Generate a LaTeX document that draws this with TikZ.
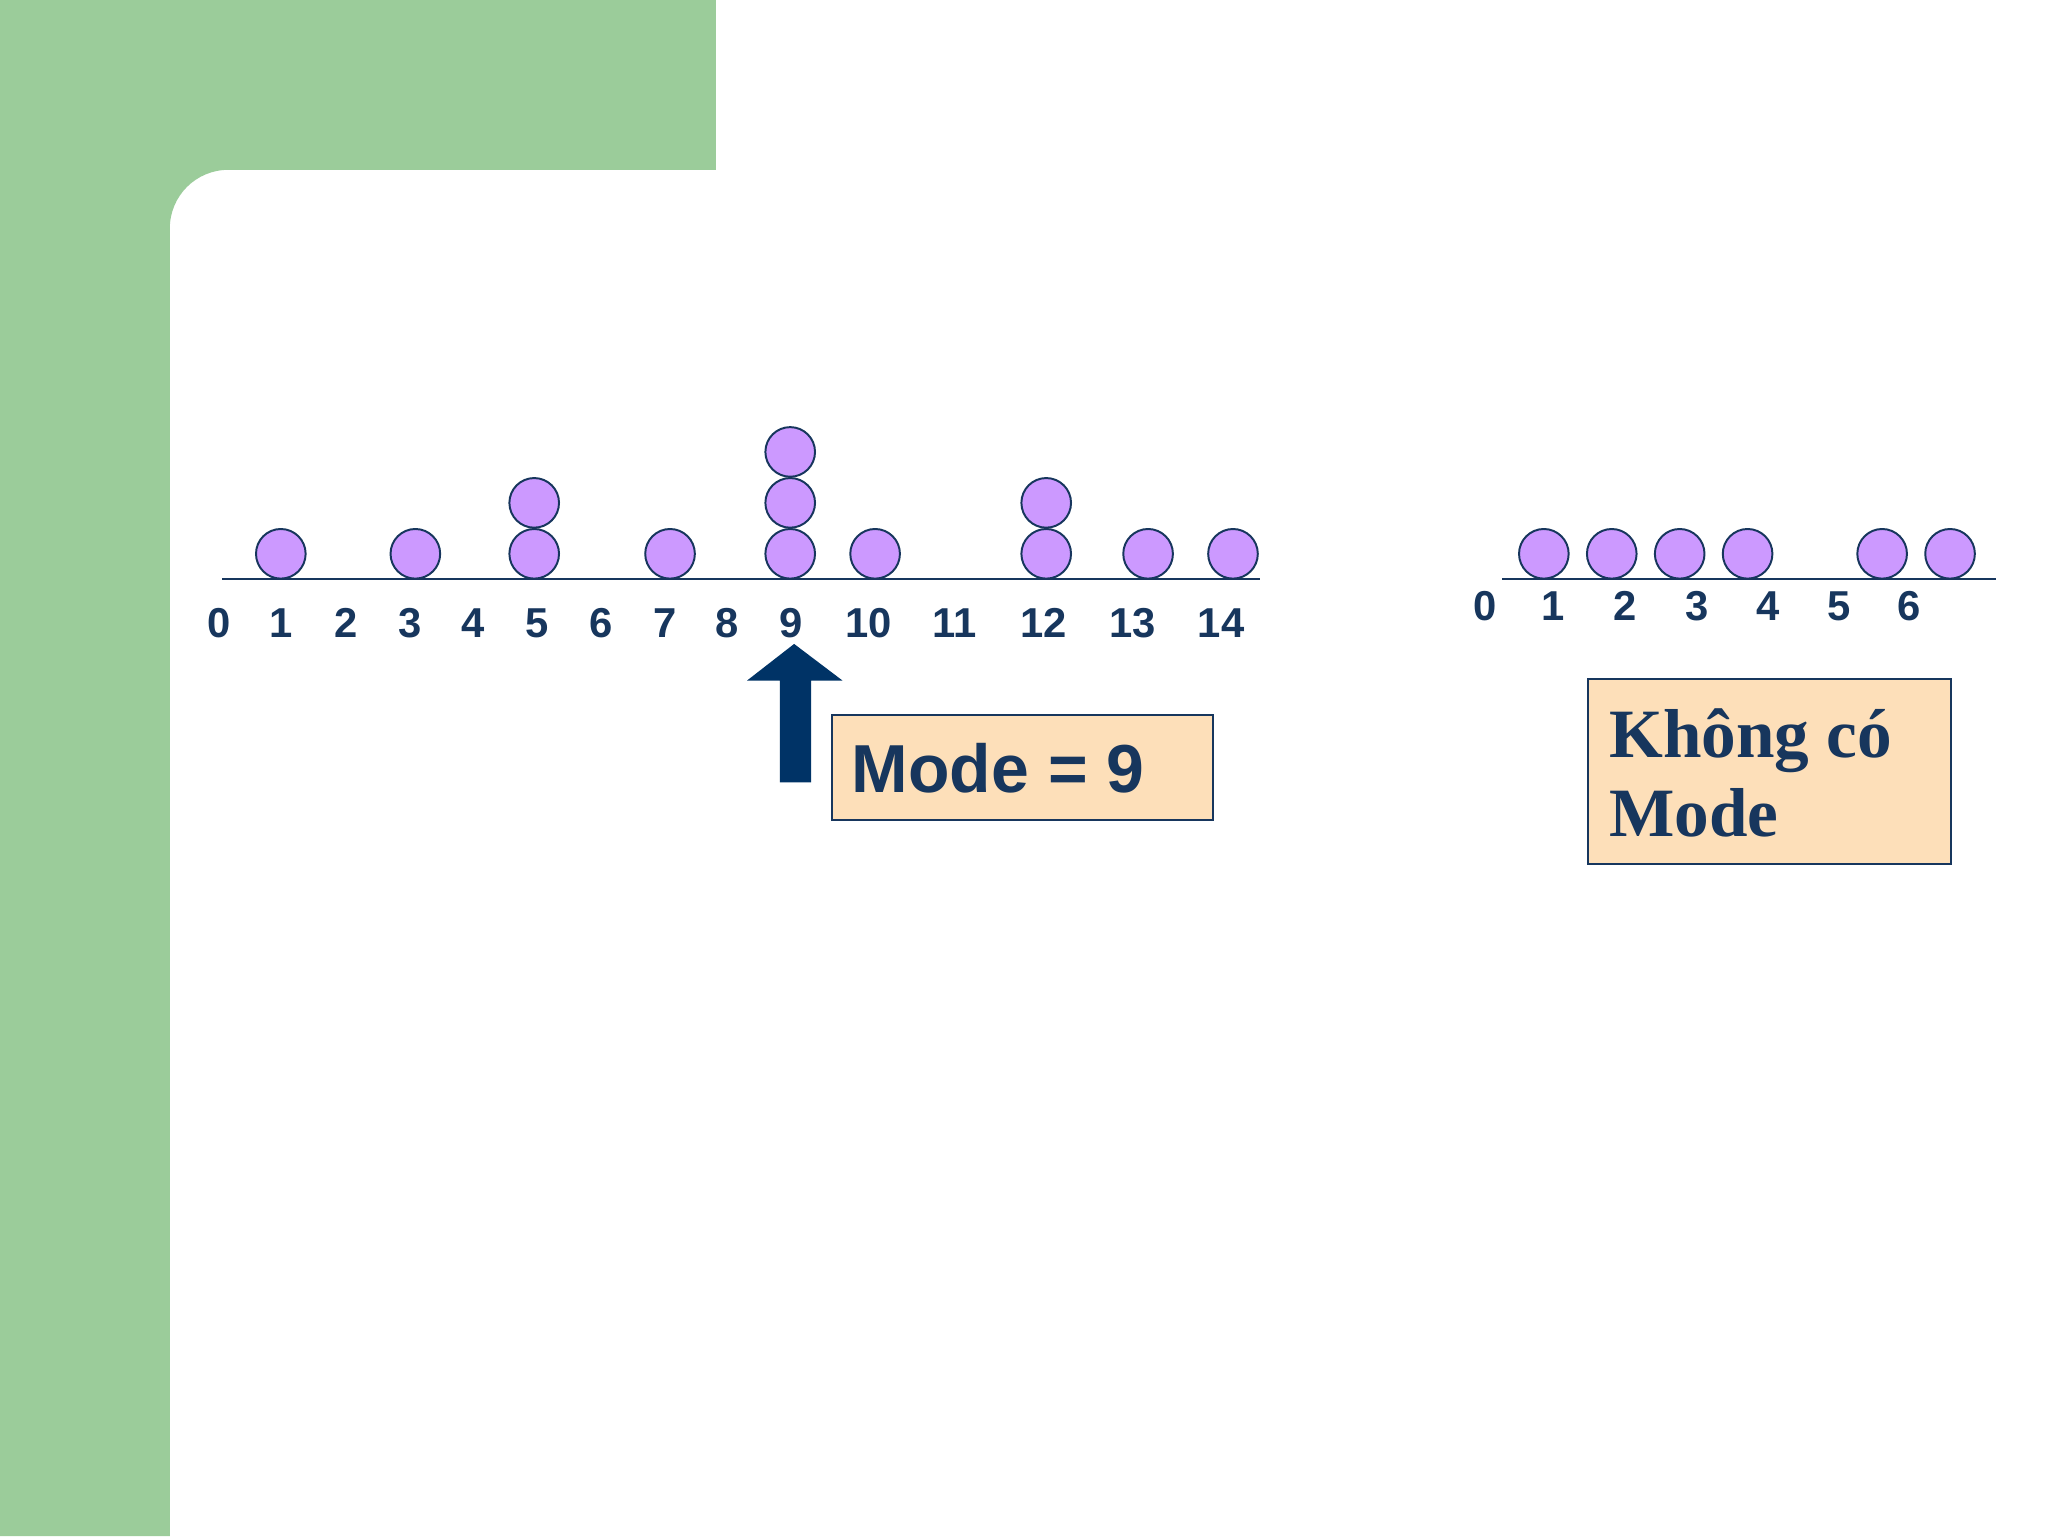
\documentclass[tikz,border=0pt]{standalone}
\usepackage{fontspec}
\setmainfont{Liberation Serif}
\setsansfont{Liberation Sans}
\begin{document}
\begin{tikzpicture}[x=1pt,y=-1pt,
  dot/.style={circle,draw=navy,line width=1.5pt,fill=lilac,minimum size=38pt,inner sep=0pt},
  lab/.style={font=\sffamily\bfseries\fontsize{32}{32}\selectfont,text=navy,inner sep=0pt},
  axis/.style={draw=navy,line width=1.5pt},
  box/.style={draw=navy,line width=1.5pt,fill=peach}]
\definecolor{navy}{HTML}{17365D}
\definecolor{lilac}{HTML}{CC99FF}
\definecolor{peach}{HTML}{FDDFB9}
\definecolor{greenbg}{HTML}{9BCC9A}
\definecolor{arrowc}{HTML}{003366}
\useasboundingbox (0,0) rectangle (1568,1176);
\fill[white] (0,0) rectangle (1568,1176);
\fill[greenbg] (0,0) -- (548,0) -- (548,130) -- (175,130) .. controls (150,130) and (130,150) .. (130,175) -- (130,1176) -- (0,1176) -- cycle;
% left axis
\coordinate (la) at (170,443); \coordinate (lb) at (965,443);
\draw[axis] (la) -- (lb);
\foreach \n/\x in {0/168,1/215,2/265,3/314,4/362,5/411,6/460,7/509,8/557,9/606,10/665,11/731,12/799,13/867,14/935}
  \node[lab] (l\n) at (\x,477) {\n};
\foreach \x/\y [count=\i] in {215/424,318/424,409/424,409/385,513/424,605/424,605/385,605/346,670/424,801/424,801/385,879/424,944/424}
  \node[dot] (d\i) at (\x,\y) {};
% arrow
\fill[arrowc] (608,493) -- (645,521) -- (621,521) -- (621,599) -- (597,599) -- (597,521) -- (572,521) -- cycle;
\node[box,minimum width=292pt,minimum height=80pt,anchor=north west] (m) at (636,547) {};
\node[font=\sffamily\bfseries\fontsize{52}{52}\selectfont,text=navy,anchor=west,inner sep=0pt] (mt) at (652,588) {Mode = 9};
% right axis
\coordinate (ra) at (1150,443); \coordinate (rb) at (1528,443);
\draw[axis] (ra) -- (rb);
\foreach \n/\x in {0/1137,1/1189,2/1244,3/1299,4/1354,5/1408,6/1462}
  \node[lab] (r\n) at (\x,464) {\n};
\foreach \x [count=\i] in {1182,1234,1286,1338,1441,1493}
  \node[dot] (e\i) at (\x,424) {};
\node[box,minimum width=278pt,minimum height=142pt,anchor=north west] (k) at (1215,519) {};
\node[font=\rmfamily\bfseries\fontsize{53}{61}\selectfont,text=navy,anchor=north west,inner sep=0pt,align=left] (kt) at (1232,542) {Không có\\Mode};
\end{tikzpicture}
\end{document}
